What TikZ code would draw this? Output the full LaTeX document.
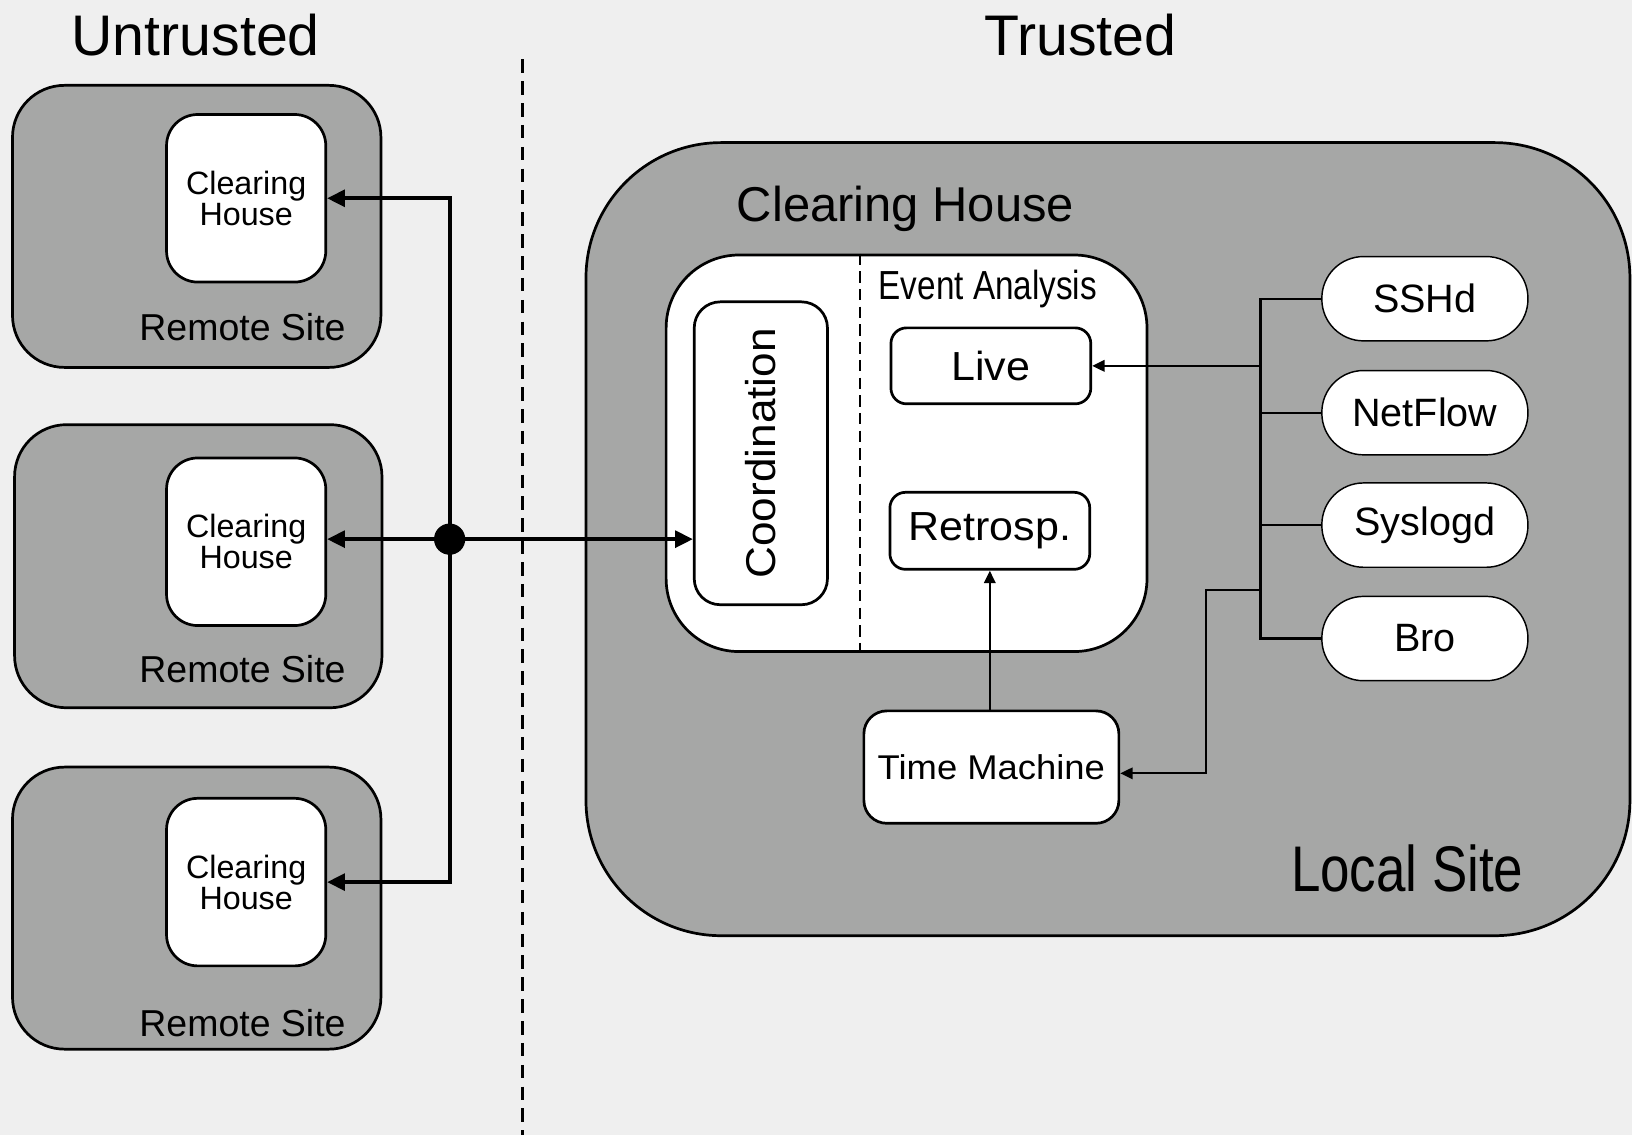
\documentclass[tikz,border=0pt]{standalone}
\usepackage{fontspec}
\setmainfont{Liberation Sans}
\newfontfamily\narrowfont[FakeStretch=0.82]{Liberation Sans}
\newfontfamily\wideish[FakeStretch=1.06]{Liberation Sans}
\usetikzlibrary{arrows.meta,calc}
\definecolor{bgcol}{HTML}{EFEFEF}
\definecolor{sitegray}{HTML}{A6A7A6}
\newcommand{\fs}[1]{\fontsize{#1}{#1}\selectfont}
\begin{document}
\begin{tikzpicture}[x=1pt,y=-1pt,
  site/.style={draw=black, line width=2.6pt, fill=sitegray, rounded corners=50pt, inner sep=0pt},
  chbox/.style={draw=black, line width=2.6pt, fill=white, rounded corners=30pt, inner sep=0pt, minimum width=153pt, minimum height=161pt, align=center, font=\fontsize{31}{30}\selectfont},
  wbox/.style={draw=black, line width=2.6pt, fill=white, inner sep=0pt},
  src/.style={draw=black, line width=1.4pt, fill=white, rounded corners=40pt, inner sep=0pt, minimum width=198pt, minimum height=81pt, font=\fs{38}},
  bigline/.style={line width=3.6pt},
  thinline/.style={line width=2.2pt},
  bigarrow/.style={bigline, -{Triangle[length=17pt,width=16pt]}},
  thinarrow/.style={thinline, -{Triangle[length=12pt,width=11pt]}},
  lbl/.style={inner sep=0pt, anchor=base}
]
\useasboundingbox (0,0) rectangle (1568,1090);
\fill[bgcol] (0,0) rectangle (1568,1090);

% titles
\node[lbl, font=\fs{55}] (untrusted) at (188,53) {Untrusted};
\node[lbl, font=\fs{55}] (trusted) at (1038,53) {Trusted};

% divider
\coordinate (dtop) at (502,57);
\coordinate (dbot) at (502,1090);
\draw[line width=2pt, dash pattern=on 13pt off 8pt] (dtop) -- (dbot);

% remote sites
\node[site, minimum width=354pt, minimum height=271pt] (rs1) at (189,217.5) {};
\node[site, minimum width=353pt, minimum height=272pt] (rs2) at (190.5,544) {};
\node[site, minimum width=354pt, minimum height=271pt] (rs3) at (189,872.5) {};
\node[chbox] (ch1) at (236.5,190.5) {Clearing\\House};
\node[chbox] (ch2) at (236.5,520.5) {Clearing\\House};
\node[chbox] (ch3) at (236.5,847.5) {Clearing\\House};
\node[lbl, font=\fs{36}] (rsl1) at (233,327) {Remote Site};
\node[lbl, font=\fs{36}] (rsl2) at (233,656) {Remote Site};
\node[lbl, font=\fs{36}] (rsl3) at (233,996) {Remote Site};

% local site
\node[draw=black, line width=2.6pt, fill=sitegray, rounded corners=130pt, minimum width=1003pt, minimum height=762pt, inner sep=0pt] (local) at (1064.5,518) {};
\node[lbl, font=\fs{47}] (chtitle) at (870,213) {Clearing House};
\node[lbl, font=\narrowfont\fs{62}] (localsite) at (1352,857) {Local Site};

\node[wbox, rounded corners=70pt, minimum width=462pt, minimum height=381pt] (inner) at (871,435.5) {};
\coordinate (ivx) at (826,0);
\draw[line width=2pt, dash pattern=on 11pt off 6pt] (ivx |- inner.north) -- (ivx |- inner.south);
\node[lbl, font=\narrowfont\fs{39}, anchor=base west] (ea) at (844,288) {Event Analysis};

\node[wbox, rounded corners=25pt, minimum width=128pt, minimum height=291pt] (coord) at (731,435.5) {};
\node[inner sep=0pt, rotate=90, font=\wideish\fs{40}] (coordlbl) at (731,435.5) {Coordination};

\node[wbox, rounded corners=15pt, minimum width=192pt, minimum height=73pt, font=\wideish\fs{39}] (live) at (952,351.5) {Live};
\node[wbox, rounded corners=15pt, minimum width=192pt, minimum height=74pt, font=\wideish\fs{39}] (retro) at (951,510) {Retrosp.};
\node[wbox, rounded corners=22pt, minimum width=245pt, minimum height=108pt, font=\wideish\fs{33}] (tm) at (952.5,737) {Time Machine};

% sources
\node[src] (sshd) at (1369,287) {SSHd};
\node[src] (netflow) at (1369,396.5) {NetFlow};
\node[src] (syslogd) at (1369,504.5) {Syslogd};
\node[src] (bro) at (1369,613.5) {Bro};

% left bus
\coordinate (J) at (432,518);
\draw[bigarrow] (J) |- (ch1.east);
\draw[bigarrow] (J) |- (ch3.east);
\draw[bigarrow] (J) -- (J -| ch2.east);
\draw[bigarrow] (J) -- (J -| coord.west);
\node[circle, fill=black, inner sep=0pt, minimum size=30pt] (dot) at (J) {};

% right bus
\coordinate (bx) at (1211,0);
\draw[thinline] (sshd.west) -- (sshd.west -| bx) -- (bro.west -| bx) -- (bro.west);
\draw[thinline] (netflow.west) -- (netflow.west -| bx);
\draw[thinline] (syslogd.west) -- (syslogd.west -| bx);
\draw[thinarrow] (live.east -| bx) -- (live.east);
\coordinate (br) at (1211,567);
\coordinate (tk) at (1159,0);
\draw[thinarrow] (br) -- (br -| tk) -- ($(tk |- tm.east)+(0,6)$) -- ($(tm.east)+(0,6)$);
\draw[thinarrow] (tm.north -| retro.south) -- (retro.south);
\end{tikzpicture}
\end{document}
